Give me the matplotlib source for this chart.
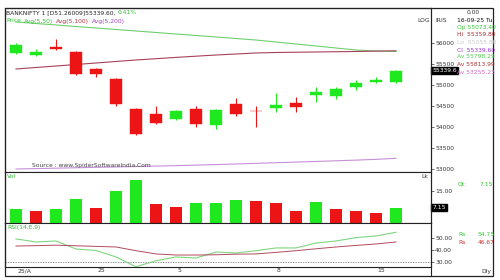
import matplotlib
matplotlib.use('Agg')
import matplotlib.pyplot as plt
import matplotlib.transforms as mtrans
from matplotlib.patches import Rectangle
from matplotlib.lines import Line2D

# ---------------- data ----------------
opens  = [55762, 55721, 55912, 55786, 55381, 55143, 54429, 54310, 54190, 54429,
          54048, 54548, 54381, 54452, 54571, 54762, 54738, 54952, 55071, 55073.4]
highs  = [56000, 55857, 56095, 55810, 55405, 55167, 54452, 54500, 54405, 54500,
          54429, 54690, 54500, 54810, 54714, 54952, 54952, 55119, 55190, 55359.8]
lows   = [55740, 55700, 55833, 55238, 55190, 54500, 53810, 54071, 54167, 54000,
          53952, 54262, 54000, 54357, 54357, 54595, 54667, 54881, 55048, 55055.8]
closes = [55952, 55793, 55864, 55262, 55262, 54548, 53833, 54095, 54381, 54071,
          54405, 54310, 54370, 54524, 54476, 54833, 54905, 55048, 55119, 55339.6]

avg50  = [56500, 56464, 56429, 56393, 56357, 56321, 56286, 56250, 56214, 56179,
          56143, 56107, 56071, 56024, 55976, 55929, 55881, 55833, 55810, 55798.29]
avg100 = [55381, 55417, 55452, 55488, 55524, 55560, 55595, 55626, 55657, 55686,
          55714, 55738, 55762, 55774, 55780, 55786, 55792, 55798, 55806, 55813.99]
avg200 = [53000, 53010, 53020, 53030, 53040, 53050, 53060, 53070, 53080, 53093,
          53106, 53120, 53135, 53150, 53165, 53180, 53196, 53212, 53230, 53255.23]

volume = [6.7, 5.6, 6.7, 11.1, 7.2, 15.2, 20.0, 8.8, 7.7, 9.5,
          9.6, 10.6, 10.2, 9.5, 5.5, 9.9, 6.4, 5.8, 4.8, 7.15]

rsi    = [49.2, 46.7, 47.5, 40.8, 39.6, 34.2, 26.0, 31.0, 34.2, 33.3,
          38.3, 37.5, 39.4, 41.7, 41.7, 45.8, 47.5, 50.3, 51.7, 54.75]
rsi_sig = [43.3, 43.6, 44.0, 43.5, 43.0, 42.5, 39.4, 36.7, 35.8, 35.8,
           36.0, 36.5, 36.7, 38.0, 39.4, 41.0, 42.5, 43.8, 45.0, 46.67]

date_tick_idx = [0, 4, 8, 13, 18]
date_tick_txt = ['25/A', '25', '5', '8', '15']

price_ticks = [53000, 53500, 54000, 54500, 55000, 55500, 56000]
vol_ticks = [15]
rsi_ticks = [30, 40, 50]

# ---------------- styling ----------------
GREEN = '#1fe81f'
RED = '#ec1414'
MA50_C = '#6fcf6f'
MA100_C = '#a8405a'
MA200_C = '#c68fd8'
FS = 4.3
TXT = '#333333'

W, H = 500, 280
fig = plt.figure(figsize=(5, 2.8), dpi=100)
fig.patch.set_facecolor('white')


def fx(x):
    return x / W


def fy(y):
    return 1 - y / H


L, R = 5, 431
ax_main = fig.add_axes([fx(L), fy(172), fx(R) - fx(L), fy(8) - fy(172)])
ax_vol = fig.add_axes([fx(L), fy(223), fx(R) - fx(L), fy(172) - fy(223)])
ax_rsi = fig.add_axes([fx(L), fy(267), fx(R) - fx(L), fy(223) - fy(267)])

n = len(closes)
xs = list(range(n))
XL = (-0.55, 20.75)

for ax in (ax_main, ax_vol, ax_rsi):
    ax.set_xlim(*XL)
    ax.set_xticks([])
    for s in ax.spines.values():
        s.set_color('#222222')
        s.set_linewidth(0.8)
    ax.yaxis.tick_right()
    ax.tick_params(axis='y', labelsize=FS, length=2, width=0.5, pad=1,
                   colors=TXT, labelcolor=TXT)
    ax.set_facecolor('white')

# ---- main candles ----
bw = 0.6
for i in xs:
    o, h, l, c = opens[i], highs[i], lows[i], closes[i]
    col = GREEN if c >= o else RED
    ax_main.vlines(i, l, h, color=col, lw=0.8, zorder=3)
    bottom = min(o, c)
    height = max(abs(c - o), 18)
    ax_main.add_patch(Rectangle((i - bw / 2, bottom), bw, height,
                                facecolor=col, edgecolor=col, lw=0.3, zorder=4))

ax_main.plot(xs, avg50, color=MA50_C, lw=0.8, zorder=2)
ax_main.plot(xs, avg100, color=MA100_C, lw=0.8, zorder=2)
ax_main.plot(xs, avg200, color=MA200_C, lw=0.8, zorder=2)

ax_main.set_ylim(52929, 56833)
ax_main.set_yticks(price_ticks)
ax_main.set_yticklabels([str(t) for t in price_ticks])

bt = mtrans.blended_transform_factory(ax_main.transAxes, ax_main.transData)
ax_main.text(1.003, closes[-1], '55339.6', transform=bt, fontsize=FS,
             color='white', va='center', ha='left', zorder=10,
             bbox=dict(boxstyle='square,pad=0.2', fc='black', ec='black'),
             clip_on=False)

ax_main.text(fx(32 - L) / (fx(R) - fx(L)), (fy(166) - fy(172)) / (fy(8) - fy(172)),
             'Source : www.SpiderSoftwareIndia.Com', transform=ax_main.transAxes,
             fontsize=FS, color='#444444', va='center', ha='left')

# ---- volume ----
vcols = [GREEN] + [GREEN if volume[i] > volume[i - 1] else RED for i in range(1, n)]
ax_vol.bar(xs, volume, width=0.6, color=vcols, zorder=3)
ax_vol.set_ylim(0, 23.9)
ax_vol.set_yticks(vol_ticks)
ax_vol.set_yticklabels(['%.2f' % t for t in vol_ticks])
bt2 = mtrans.blended_transform_factory(ax_vol.transAxes, ax_vol.transData)
ax_vol.text(1.003, volume[-1], '%.2f' % volume[-1], transform=bt2, fontsize=FS,
            color='white', va='center', ha='left', zorder=10,
            bbox=dict(boxstyle='square,pad=0.2', fc='black', ec='black'),
            clip_on=False)

# ---- RSI ----
ax_rsi.plot(xs, rsi, color='#7fd67f', lw=0.8, zorder=3)
ax_rsi.plot(xs, rsi_sig, color='#b24a5e', lw=0.7, zorder=3)
ax_rsi.axhline(30, color='#777777', lw=0.6, ls=(0, (1.5, 1.5)), zorder=1)
ax_rsi.set_ylim(25.8, 62.5)
ax_rsi.set_yticks(rsi_ticks)
ax_rsi.set_yticklabels(['%.2f' % t for t in rsi_ticks])

# x date labels
bt3 = mtrans.blended_transform_factory(ax_rsi.transData, fig.transFigure)
for idx, t in zip(date_tick_idx, date_tick_txt):
    ax_rsi.text(idx + 0.05, fy(271), t, transform=bt3, fontsize=FS, color=TXT,
                ha='left', va='center', clip_on=False)

# ---------------- frame lines ----------------
fig.add_artist(Rectangle((fx(5), fy(276)), fx(493) - fx(5), fy(8) - fy(276),
                         transform=fig.transFigure, fill=False, ec='#222222', lw=0.9))
fig.add_artist(Line2D([fx(R), fx(R)], [fy(8), fy(276)], transform=fig.transFigure,
                      color='#222222', lw=0.8))


def ftext(x, y, s, color=TXT, ha='left', **kw):
    return fig.text(fx(x), fy(y), s, fontsize=FS, color=color, ha=ha, va='center', **kw)


# title
t1 = ftext(6, 13, 'BANKNIFTY 1 [D51.26009]55339.60, ', color='#222222')
fig.text(0, 0, '0.41%', fontsize=FS, color='#33bb33', ha='left', va='bottom',
         transform=mtrans.offset_copy(fig.transFigure, fig=fig, x=0, y=0))
# place 0.41% after title using annotate
fig.texts[-1].remove()
ax_main.annotate('0.41%', xy=(1, 0), xycoords=t1, fontsize=FS, color='#33bb33',
                 ha='left', va='bottom', annotation_clip=False)

# legend line
ftext(6, 21, 'Price', color='#33bb33')
ftext(24, 21, 'Avg(5,50)', color='#33bb33')
ftext(56, 21, 'Avg(5,100)', color='#b03040')
ftext(92, 21, 'Avg(5,200)', color='#a040c0')

# right info column
ftext(473, 13, '0.00', ha='center')
ftext(424, 21, 'LOG', ha='center')
ftext(441, 21, 'IRIS', ha='center')
ftext(457, 21, '16-09-25 Tu', color='#111111')
ftext(457, 28, 'Op 55073.40', color='#33cc33')
ftext(457, 35, 'Hi  55359.80', color='#b03030')
ftext(457, 43, 'Lo  55055.80', color='#c8c8c8')
ftext(457, 50, 'Cl  55339.60', color='#9933cc')
ftext(457, 57, 'Av 55798.29', color='#55cc55')
ftext(457, 64, 'Av 55813.99', color='#b03030')
ftext(457, 72, 'Av 53255.23', color='#cc66cc')

ftext(7, 176, 'Vol', color='#33bb33')
ftext(425, 177, 'Lk', ha='center')
ftext(458, 184, 'Qt:', color='#33cc33')
ftext(480, 184, '7.15', color='#33cc33')

ftext(7, 228, 'RSI(14,E,9)', color='#33bb33')
ftext(458, 235, 'Rs', color='#33cc33')
ftext(478, 235, '54.75', color='#33cc33')
ftext(458, 243, 'Rs', color='#cc3333')
ftext(478, 243, '46.67', color='#cc3333')

ftext(486, 272, 'Dly', ha='center')

fig.savefig('out.png', dpi=100, facecolor='white')
